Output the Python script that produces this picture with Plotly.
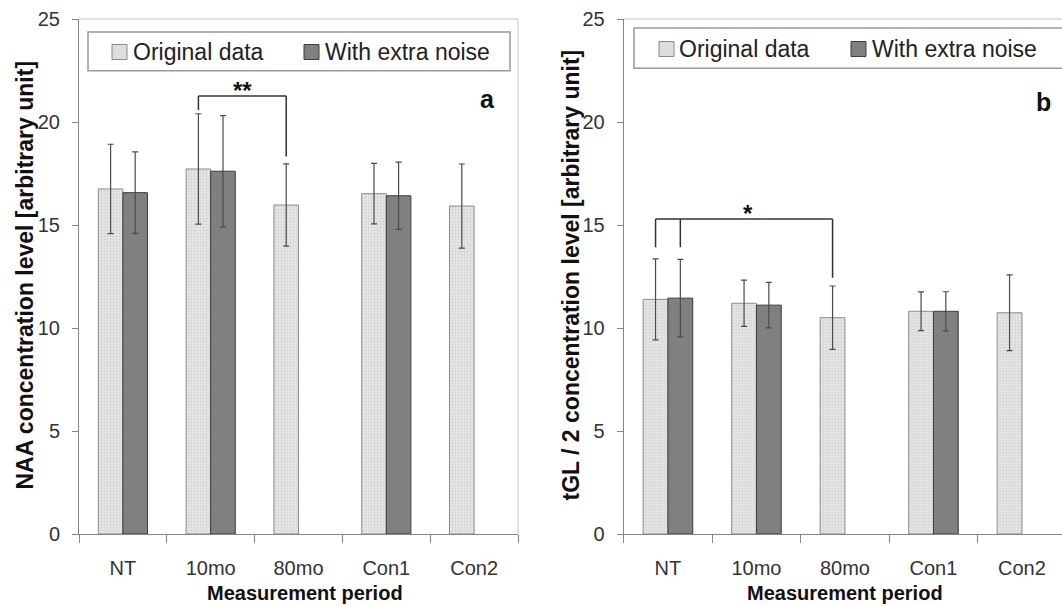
import plotly.graph_objects as go

categories = ["NT", "10mo", "80mo", "Con1", "Con2"]

# Panel a: NAA
naa_orig = [16.75, 17.72, 15.97, 16.52, 15.92]
naa_orig_err = [2.17, 2.68, 2.0, 1.47, 2.04]
naa_noise = [16.57, 17.61, None, 16.42, None]
naa_noise_err = [1.98, 2.7, None, 1.63, None]

# Panel b: tGL / 2
tgl_orig = [11.39, 11.20, 10.50, 10.81, 10.74]
tgl_orig_err = [1.97, 1.12, 1.54, 0.94, 1.84]
tgl_noise = [11.45, 11.11, None, 10.81, None]
tgl_noise_err = [1.88, 1.10, None, 0.95, None]

series_names = ["Original data", "With extra noise"]
y_ticks = [0, 5, 10, 15, 20, 25]

W, H = 1062, 606
TOP, BOT = 19, 534
PH = BOT - TOP


def px(x):
    return x / W


def py(y):
    return (BOT - y) / PH


FONT = "Liberation Sans, Arial, sans-serif"
ORIG_LINE = "#8c8c8c"
NOISE_FILL = "#808080"
NOISE_LINE = "#3c3c3c"
ERR_COLOR = "#4a4a4a"
AXIS_COLOR = "#868686"
FRAME_COLOR = "#c4c4c4"

fig = go.Figure()


def add_pair(orig, orig_err, noise, noise_err, xa, ya):
    fig.add_trace(go.Bar(
        x=categories, y=orig, name=series_names[0], xaxis=xa, yaxis=ya,
        marker=dict(color="#e2e2e2",
                    pattern=dict(shape=".", bgcolor="#e6e6e6", fgcolor="#b8b8b8",
                                 size=3, solidity=0.3),
                    line=dict(color=ORIG_LINE, width=1)),
        error_y=dict(type="data", array=orig_err, visible=True,
                     color=ERR_COLOR, thickness=1.2, width=3),
        showlegend=False))
    fig.add_trace(go.Bar(
        x=categories, y=noise, name=series_names[1], xaxis=xa, yaxis=ya,
        marker=dict(color=NOISE_FILL, line=dict(color=NOISE_LINE, width=1)),
        error_y=dict(type="data", array=noise_err, visible=True,
                     color=ERR_COLOR, thickness=1.2, width=3),
        showlegend=False))


add_pair(naa_orig, naa_orig_err, naa_noise, naa_noise_err, "x", "y")
add_pair(tgl_orig, tgl_orig_err, tgl_noise, tgl_noise_err, "x2", "y2")

tickfont = dict(family=FONT, size=20, color="#333333")
common_x = dict(type="category", tickson="boundaries", ticks="outside", ticklen=8,
                tickcolor=AXIS_COLOR, showline=True, linecolor=AXIS_COLOR, linewidth=1,
                showgrid=False, tickfont=tickfont, ticklabelstandoff=16, fixedrange=True)
common_y = dict(range=[0, 25], tickvals=y_ticks, ticks="outside", ticklen=6,
                tickcolor=AXIS_COLOR, showline=True, linecolor=AXIS_COLOR, linewidth=1,
                showgrid=False, zeroline=False, tickfont=tickfont, ticklabelstandoff=8)

fig.update_layout(
    width=W, height=H,
    margin=dict(l=0, r=0, t=TOP, b=H - BOT, autoexpand=False),
    paper_bgcolor="white", plot_bgcolor="white",
    barmode="group", bargap=0.44, bargroupgap=0,
    xaxis=dict(domain=[px(79), px(518)], range=[-0.5, 4.5], anchor="y", **common_x),
    yaxis=dict(domain=[0, 1], anchor="x", **common_y),
    xaxis2=dict(domain=[px(623.7), 1], range=[-0.5, -0.5 + (W - 623.7) / 88.5],
                anchor="y2", **common_x),
    yaxis2=dict(domain=[0, 1], anchor="x2", **common_y),
)

shapes = []
# frames (top & right, light gray)
shapes.append(dict(type="line", xref="paper", yref="paper", x0=px(79), x1=px(518),
                   y0=1, y1=1, line=dict(color=FRAME_COLOR, width=1), layer="below"))
shapes.append(dict(type="line", xref="paper", yref="paper", x0=px(518), x1=px(518),
                   y0=0, y1=1, line=dict(color=FRAME_COLOR, width=1), layer="below"))
shapes.append(dict(type="line", xref="paper", yref="paper", x0=px(623.7), x1=1,
                   y0=1, y1=1, line=dict(color=FRAME_COLOR, width=1), layer="below"))

annotations = []


def legend_box(x0, x1, y0, y1, sw1, t1, sw2, t2, yc):
    shapes.append(dict(type="rect", xref="paper", yref="paper",
                       x0=px(x0), x1=px(x1), y0=py(y1), y1=py(y0),
                       line=dict(color="#9a9a9a", width=1.5), fillcolor="white"))
    for sx, fill, lc in [(sw1, "#dddddd", "#8a8a8a"), (sw2, NOISE_FILL, NOISE_LINE)]:
        shapes.append(dict(type="rect", xref="paper", yref="paper",
                           x0=px(sx), x1=px(sx + 15), y0=py(yc + 7.5), y1=py(yc - 7.5),
                           line=dict(color=lc, width=1), fillcolor=fill))
    for tx, name in [(t1, series_names[0]), (t2, series_names[1])]:
        annotations.append(dict(xref="paper", yref="paper", x=px(tx), y=py(yc),
                                text=name, showarrow=False, xanchor="left", yanchor="middle",
                                font=dict(family=FONT, size=23, color="#222222")))


legend_box(88, 510, 32, 70.7, 112, 131, 304, 323, 52)
legend_box(634, 1080, 28, 68.3, 659, 677, 851, 870, 49)


# significance brackets
def bracket(xref, yref, legs, level, label, lx):
    xs = [l[0] for l in legs]
    shapes.append(dict(type="line", xref=xref, yref=yref, x0=min(xs), x1=max(xs),
                       y0=level, y1=level, line=dict(color="#333333", width=1.5)))
    for lxp, bottom in legs:
        shapes.append(dict(type="line", xref=xref, yref=yref, x0=lxp, x1=lxp,
                           y0=bottom, y1=level, line=dict(color="#333333", width=1.5)))
    annotations.append(dict(xref=xref, yref=yref, x=lx, y=level, text=label,
                            showarrow=False, xanchor="center", yanchor="bottom",
                            yshift=-10,
                            font=dict(family=FONT, size=24, color="#111111")))


OFF = 0.14
bracket("x", "y", [(1 - OFF, 20.58), (2 - OFF, 18.32)], 21.26, "<b>**</b>", 1.5 - OFF)
bracket("x2", "y2", [(0 - OFF, 13.92), (0 + OFF, 13.92), (2 - OFF, 12.44)], 15.29,
        "<b>*</b>", 0.9)

# panel letters
annotations.append(dict(xref="paper", yref="paper", x=px(487), y=py(99), text="<b>a</b>",
                        showarrow=False, xanchor="center", yanchor="middle",
                        font=dict(family=FONT, size=25, color="#111111")))
annotations.append(dict(xref="paper", yref="paper", x=px(1043), y=py(102), text="<b>b</b>",
                        showarrow=False, xanchor="center", yanchor="middle",
                        font=dict(family=FONT, size=25, color="#111111")))

# axis titles
title_font_y = dict(family=FONT, size=23, color="#111111")
title_font_x = dict(family=FONT, size=20, color="#111111")
annotations.append(dict(xref="paper", yref="paper", x=px(24), y=py(275.5), textangle=-90,
                        xanchor="center", yanchor="middle",
                        text="<b>NAA concentration level [arbitrary unit]</b>",
                        showarrow=False, font=title_font_y))
annotations.append(dict(xref="paper", yref="paper", x=px(570), y=py(275.5), textangle=-90,
                        xanchor="center", yanchor="middle",
                        text="<b>tGL / 2 concentration level [arbitrary unit]</b>",
                        showarrow=False, font=title_font_y))
annotations.append(dict(xref="paper", yref="paper", x=px(305), y=py(593),
                        xanchor="center", yanchor="middle",
                        text="<b>Measurement period</b>", showarrow=False, font=title_font_x))
annotations.append(dict(xref="paper", yref="paper", x=px(845), y=py(593),
                        xanchor="center", yanchor="middle",
                        text="<b>Measurement period</b>", showarrow=False, font=title_font_x))

fig.update_layout(shapes=shapes, annotations=annotations)

fig.write_html("out.html", config={"displayModeBar": False})
